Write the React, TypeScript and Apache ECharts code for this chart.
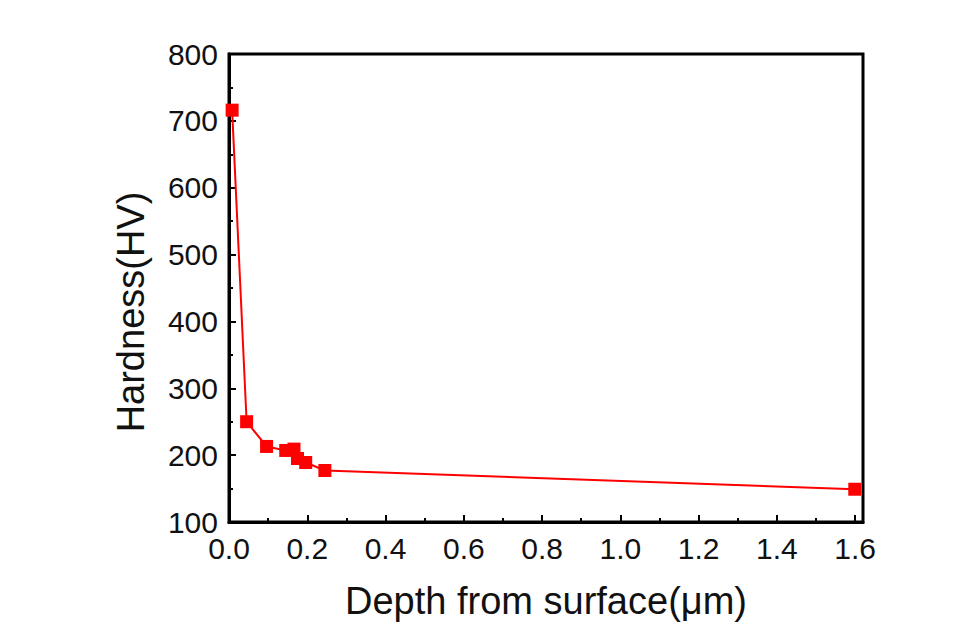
import React, { useEffect, useRef } from "react";
import * as echarts from "echarts";

const depth = [0.008, 0.045, 0.096, 0.145, 0.166, 0.175, 0.196, 0.245, 1.599];
const hardness = [716, 250, 213, 207, 209, 195, 189, 177, 149];
const xTitle = "Depth from surface(\u03bcm)";
const yTitle = "Hardness(HV)";

const FONT = "'Liberation Sans', Arial, sans-serif";

export default function App() {
  const ref = useRef<HTMLDivElement>(null);
  useEffect(() => {
    if (!ref.current) return;
    const chart = echarts.init(ref.current, undefined, { renderer: "svg" });
    chart.setOption({
      animation: false,
      backgroundColor: "#ffffff",
      grid: {
        left: 229,
        top: 54,
        right: 112,
        bottom: 116,
        show: true,
        borderColor: "#000",
        borderWidth: 3,
        backgroundColor: "transparent",
      },
      graphic: [
        {
          type: "text",
          x: 131,
          y: 312,
          rotation: Math.PI / 2,
          style: {
            text: yTitle,
            fontFamily: FONT,
            fontSize: 38,
            fill: "#111",
            textAlign: "center",
            textVerticalAlign: "middle",
          },
        },
      ],
      xAxis: {
        type: "value",
        min: 0,
        max: 1.62,
        interval: 0.2,
        name: xTitle,
        nameLocation: "middle",
        nameGap: 60,
        nameTextStyle: { fontFamily: FONT, fontSize: 38, color: "#111" },
        axisLine: { show: true, lineStyle: { color: "#000", width: 3 } },
        axisTick: { show: true, inside: true, length: 7, lineStyle: { color: "#000", width: 2 } },
        minorTick: { show: true, splitNumber: 2, length: 4, lineStyle: { color: "#000", width: 2 } },
        splitLine: { show: false },
        axisLabel: {
          fontFamily: FONT,
          fontSize: 30,
          color: "#111",
          margin: 11,
          showMaxLabel: false,
          formatter: (v: number) => v.toFixed(1),
        },
      },
      yAxis: {
        type: "value",
        min: 100,
        max: 800,
        interval: 100,
        axisLine: { show: true, lineStyle: { color: "#000", width: 3 } },
        axisTick: { show: true, inside: true, length: 7, lineStyle: { color: "#000", width: 2 } },
        minorTick: { show: true, splitNumber: 2, length: 4, lineStyle: { color: "#000", width: 2 } },
        splitLine: { show: false },
        axisLabel: { fontFamily: FONT, fontSize: 30, color: "#111", margin: 11 },
      },
      series: [
        {
          type: "line",
          data: depth.map((d, i) => [d, hardness[i]]),
          symbol: "rect",
          symbolSize: 13,
          itemStyle: { color: "#ff0000" },
          lineStyle: { color: "#ff0000", width: 2 },
        },
      ],
    });
    return () => chart.dispose();
  }, []);
  return <div ref={ref} style={{ width: 975, height: 638, position: "absolute", left: 0, top: 0 }} />;
}
